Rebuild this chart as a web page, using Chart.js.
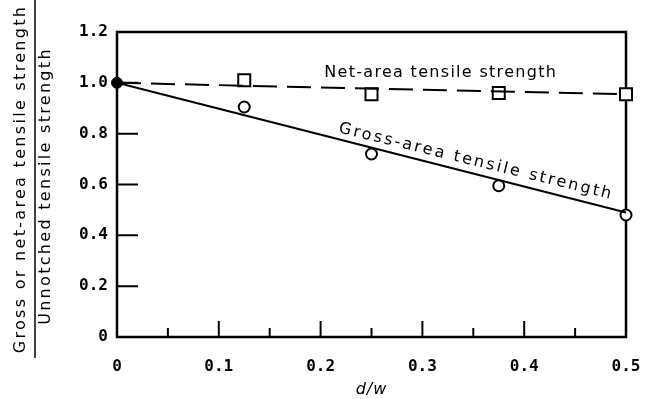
<!DOCTYPE html>
<html>
<head>
<meta charset="utf-8">
<script src="https://cdn.jsdelivr.net/npm/chart.js@4"></script>
<style>
  html, body { margin: 0; padding: 0; background: #fff; }
  #wrap { width: 656px; height: 399px; }
</style>
</head>
<body>
<div id="wrap"><canvas id="chart1" width="656" height="399"></canvas></div>
<script>
// d/w values of the tested specimens
const ratios = [0.125, 0.25, 0.375, 0.5];
const grossValues = [0.905, 0.72, 0.595, 0.48];
const netValues = [1.01, 0.955, 0.96, 0.955];
const origin = { x: 0, y: 1.0 };
// end points of the drawn trend lines
const grossLine = [origin, { x: 0.5, y: 0.49 }];
const netLine = [origin, { x: 0.5, y: 0.955 }];

const yTicks = [0, 0.2, 0.4, 0.6, 0.8, 1.0, 1.2];
const xTicks = [0, 0.1, 0.2, 0.3, 0.4, 0.5];
const xMinor = [0.05, 0.15, 0.25, 0.35, 0.45];

const fmt = v => (Math.abs(v) < 1e-9 ? '0' : v.toFixed(1));

const points = (xs, ys) => xs.map((x, i) => ({ x: x, y: ys[i] }));

// frame, inward ticks, labels on the curves, y title
const decor = {
  id: 'decor',
  beforeDatasetsDraw(chart) {
    const { ctx, chartArea: a, scales: { x, y } } = chart;
    ctx.save();
    ctx.strokeStyle = '#000';
    ctx.lineWidth = 2.5;
    ctx.strokeRect(a.left, a.top, a.right - a.left, a.bottom - a.top);
    ctx.lineWidth = 2;
    ctx.beginPath();
    yTicks.forEach(v => {
      if (v <= 0 || v >= 1.2) return;
      const py = y.getPixelForValue(v);
      ctx.moveTo(a.left, py); ctx.lineTo(a.left + 21, py);
    });
    xTicks.forEach(v => {
      if (v <= 0 || v >= 0.5) return;
      const px = x.getPixelForValue(v);
      ctx.moveTo(px, a.bottom); ctx.lineTo(px, a.bottom - 16);
    });
    xMinor.forEach(v => {
      const px = x.getPixelForValue(v);
      ctx.moveTo(px, a.bottom); ctx.lineTo(px, a.bottom - 9);
    });
    ctx.stroke();
    ctx.restore();
  },
  afterDraw(chart) {
    const { ctx, scales: { x, y } } = chart;
    ctx.save();
    ctx.fillStyle = '#000';
    ctx.font = '16px "DejaVu Sans"';
    ctx.letterSpacing = '1.3px';
    ctx.textAlign = 'center';
    ctx.textBaseline = 'alphabetic';
    ctx.fillText('Net-area tensile strength', x.getPixelForValue(0.318), y.getPixelForValue(1.022));

    const x0 = x.getPixelForValue(grossLine[0].x), y0 = y.getPixelForValue(grossLine[0].y);
    const x1 = x.getPixelForValue(grossLine[1].x), y1 = y.getPixelForValue(grossLine[1].y);
    const ang = Math.atan2(y1 - y0, x1 - x0);
    const cx = x.getPixelForValue(0.35);
    const cy = y0 + (cx - x0) * Math.tan(ang);
    ctx.letterSpacing = '2.4px';
    ctx.translate(cx, cy);
    ctx.rotate(ang - 0.01);
    ctx.fillText('Gross-area tensile strength', 0, -8);
    ctx.restore();

    // y axis title as a fraction
    ctx.save();
    ctx.fillStyle = '#000';
    ctx.strokeStyle = '#000';
    ctx.font = '16px "DejaVu Sans"';
    ctx.letterSpacing = '2.3px';
    ctx.textAlign = 'center';
    ctx.textBaseline = 'middle';
    ctx.save();
    ctx.translate(21, 179);
    ctx.rotate(-Math.PI / 2);
    ctx.fillText('Gross or net-area tensile strength', 0, 0);
    ctx.restore();
    ctx.save();
    ctx.translate(46, 186);
    ctx.rotate(-Math.PI / 2);
    ctx.fillText('Unnotched tensile strength', 0, 0);
    ctx.restore();
    ctx.lineWidth = 1.5;
    ctx.beginPath();
    ctx.moveTo(35, 0); ctx.lineTo(35, 358);
    ctx.stroke();

    ctx.font = 'italic 16px "DejaVu Sans"';
    ctx.letterSpacing = '1px';
    ctx.fillText('d/w', x.getPixelForValue(0.25), 390);
    ctx.restore();
  }
};

const chart = new Chart(document.getElementById('chart1'), {
  type: 'scatter',
  data: {
    datasets: [
      {
        label: 'Gross fit', data: grossLine, showLine: true,
        borderColor: '#000', borderWidth: 2, pointRadius: 0, clip: false
      },
      {
        label: 'Net fit', data: netLine, showLine: true,
        borderColor: '#000', borderWidth: 2, borderDash: [24, 10], pointRadius: 0, clip: false
      },
      {
        label: 'Gross-area', data: points(ratios, grossValues),
        pointStyle: 'circle', pointRadius: 5.5, pointBorderWidth: 2,
        borderColor: '#000', backgroundColor: '#fff', clip: false
      },
      {
        label: 'Net-area', data: points(ratios, netValues),
        pointStyle: 'rect', pointRadius: 8.5, pointBorderWidth: 2,
        borderColor: '#000', backgroundColor: '#fff', clip: false
      },
      {
        label: 'Unnotched', data: [origin],
        pointStyle: 'circle', pointRadius: 5.5, pointBorderWidth: 1,
        borderColor: '#000', backgroundColor: '#000', clip: false
      }
    ]
  },
  options: {
    responsive: false,
    animation: false,
    layout: { padding: { top: 32, right: 30, left: 0, bottom: 0 } },
    plugins: { legend: { display: false }, tooltip: { enabled: false } },
    scales: {
      x: {
        type: 'linear', min: 0, max: 0.5,
        afterBuildTicks: s => { s.ticks = xTicks.map(v => ({ value: v })); },
        afterFit: s => { s.height = 62; s.paddingLeft = 0; s.paddingRight = 0; },
        grid: { display: false, drawTicks: false },
        border: { display: false },
        ticks: {
          callback: fmt, color: '#000', padding: 20, maxRotation: 0, autoSkip: false,
          font: { family: '"DejaVu Sans Mono"', size: 16, weight: 'bold' }
        }
      },
      y: {
        type: 'linear', min: 0, max: 1.2,
        afterBuildTicks: s => { s.ticks = yTicks.map(v => ({ value: v })); },
        afterFit: s => { s.width = 117; s.paddingTop = 0; s.paddingBottom = 0; },
        grid: { display: false, drawTicks: false },
        border: { display: false },
        ticks: {
          callback: fmt, color: '#000', padding: 9, autoSkip: false,
          font: { family: '"DejaVu Sans Mono"', size: 16, weight: 'bold' }
        }
      }
    }
  },
  plugins: [decor]
});
</script>
</body>
</html>
